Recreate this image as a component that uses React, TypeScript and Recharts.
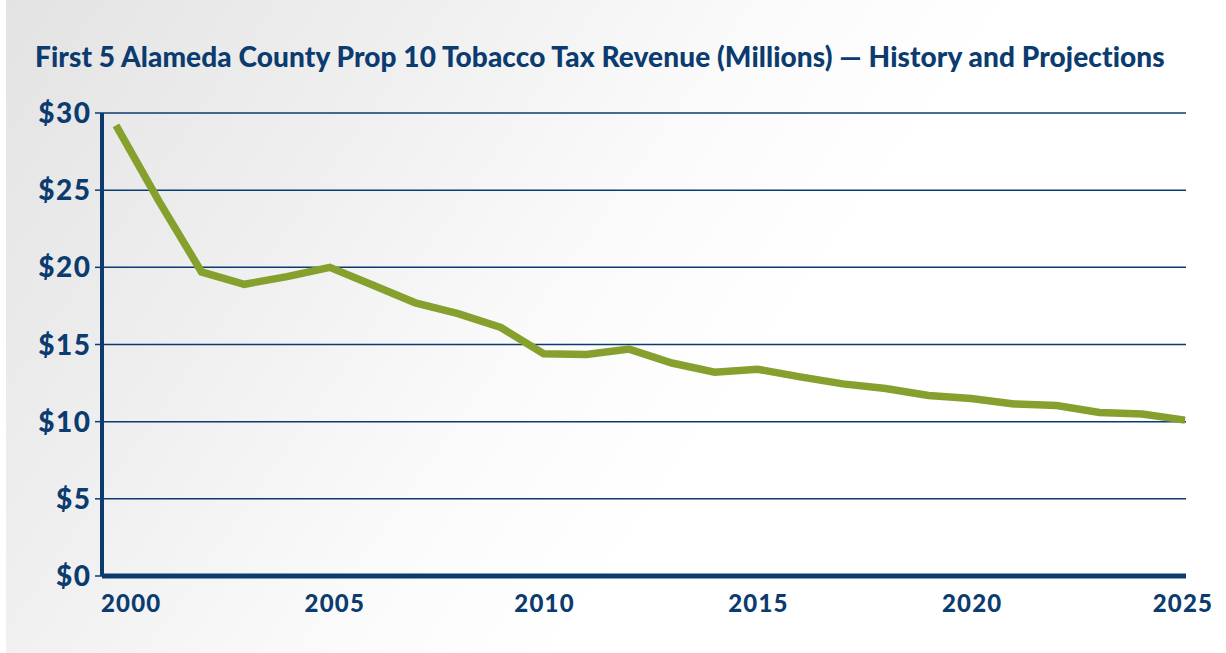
import React from "react";
import { LineChart, Line, XAxis, YAxis, CartesianGrid } from "recharts";

const years = [
  2000, 2001, 2002, 2003, 2004, 2005, 2006, 2007, 2008, 2009, 2010, 2011, 2012,
  2013, 2014, 2015, 2016, 2017, 2018, 2019, 2020, 2021, 2022, 2023, 2024, 2025,
];
const revenue = [
  29.2, 24.3, 19.7, 18.9, 19.4, 20.0, 18.85, 17.7, 17.0, 16.1, 14.4, 14.35, 14.7,
  13.8, 13.2, 13.4, 12.9, 12.45, 12.15, 11.7, 11.5, 11.15, 11.05, 10.6, 10.5, 10.1,
];
const xTicks = [2000, 2005, 2010, 2015, 2020, 2025];
const yTicks = [0, 5, 10, 15, 20, 25, 30];
const title =
  "First 5 Alameda County Prop 10 Tobacco Tax Revenue (Millions) \u2014 History and Projections";

const data = years.map((y, i) => ({ year: y, value: revenue[i] }));

const NAVY = "#0b3b6f";
const GREEN = "#86a02e";
const FONT = "Lato, 'Open Sans', sans-serif";

const XTick = (props: any) => {
  const { x, y, payload } = props;
  let tx = x;
  let anchor: "start" | "middle" | "end" = "middle";
  if (payload.value === 2000) {
    tx = x - 15;
    anchor = "start";
  } else if (payload.value === 2025) {
    tx = x - 2;
  } else if (payload.value === 2005) {
    tx = x + 5;
  } else {
    tx = x + 1;
  }
  return (
    <text
      x={tx}
      y={y}
      dy="0.71em"
      textAnchor={anchor}
      fill={NAVY}
      fontFamily={FONT}
      fontWeight={900}
      fontSize={24}
      letterSpacing={1.2}
    >
      {payload.value}
    </text>
  );
};

const YTick = (props: any) => {
  const { x, y, payload } = props;
  return (
    <text
      x={x + 1.5}
      y={y}
      dy="0.36em"
      textAnchor="end"
      fill={NAVY}
      fontFamily={FONT}
      fontWeight={900}
      fontSize={28}
      letterSpacing={1.5}
    >
      {"$" + payload.value}
    </text>
  );
};

export default function App() {
  return (
    <div
      style={{
        position: "absolute",
        left: 0,
        top: 0,
        width: 1226,
        height: 653,
        background: "#ffffff",
      }}
    >
      <div
        style={{
          position: "absolute",
          left: 6,
          top: 0,
          width: 1220,
          height: 653,
          background:
            "linear-gradient(125deg, #e3e3e4 0%, #efeff0 25%, #fafafa 45%, #ffffff 60%)",
        }}
      />
      <div
        style={{
          position: "absolute",
          left: 35,
          top: 38,
          fontFamily: FONT,
          fontWeight: 900,
          fontSize: 28,
          letterSpacing: 0.1,
          color: NAVY,
          whiteSpace: "nowrap",
          lineHeight: "36px",
        }}
      >
        {title}
      </div>
      <div style={{ position: "absolute", left: 0, top: 0 }}>
        <LineChart
          width={1226}
          height={653}
          data={data}
          margin={{ top: 113, right: 40, bottom: 37, left: 0 }}
        >
          <CartesianGrid
            horizontal={true}
            vertical={false}
            stroke={NAVY}
            strokeWidth={1.5}
          />
          <XAxis
            dataKey="year"
            type="number"
            domain={[2000, 2025]}
            ticks={xTicks}
            padding={{ left: 14, right: 1 }}
            height={40}
            tickLine={false}
            tickSize={0}
            tickMargin={19}
            axisLine={{ stroke: NAVY, strokeWidth: 5 }}
            tick={<XTick />}
            interval={0}
          />
          <YAxis
            type="number"
            domain={[0, 30]}
            ticks={yTicks}
            width={102}
            tickSize={7}
            tickMargin={5}
            tickLine={{ stroke: NAVY, strokeWidth: 1.5 }}
            axisLine={{ stroke: NAVY, strokeWidth: 4 }}
            tick={<YTick />}
            interval={0}
          />
          <Line
            type="linear"
            dataKey="value"
            stroke={GREEN}
            strokeWidth={7.5}
            strokeLinecap="butt"
            strokeLinejoin="miter"
            dot={false}
            activeDot={false}
            isAnimationActive={false}
          />
        </LineChart>
      </div>
    </div>
  );
}
